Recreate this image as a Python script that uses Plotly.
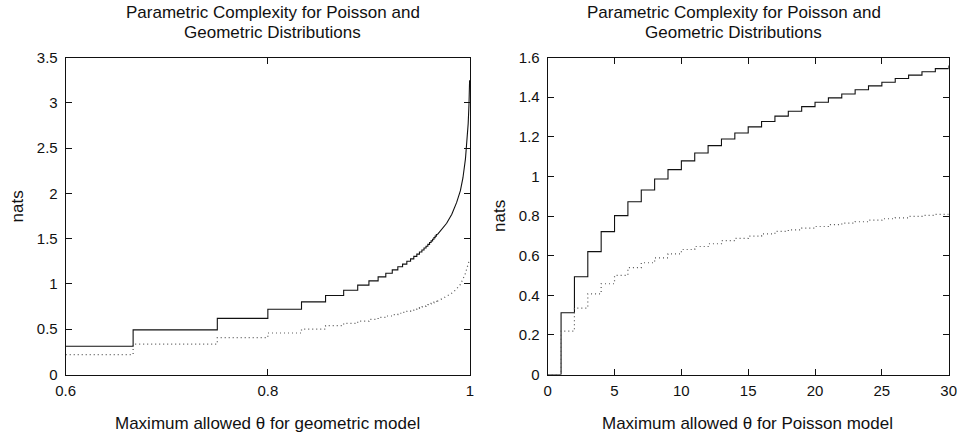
import plotly.graph_objects as go

# ---------------- data ----------------
# Step levels (nats) for integer k = 1..29 (solid = upper curve, dotted = lower curve)
solid_levels = [0.312, 0.493, 0.620, 0.721, 0.802, 0.872, 0.931, 0.987, 1.034, 1.078,
                1.118, 1.155, 1.189, 1.219, 1.250, 1.277, 1.304, 1.329, 1.352, 1.374,
                1.396, 1.416, 1.437, 1.457, 1.475, 1.494, 1.511, 1.528, 1.544]
dotted_levels = [0.219, 0.335, 0.407, 0.458, 0.500, 0.539, 0.564, 0.589, 0.609, 0.631,
                 0.646, 0.660, 0.676, 0.687, 0.698, 0.710, 0.722, 0.730, 0.739, 0.747,
                 0.756, 0.764, 0.771, 0.779, 0.786, 0.791, 0.798, 0.803, 0.808]

# Right panel: maximum allowed theta for Poisson model (step positions)
poisson_x = [0, 1, 2, 3, 4, 5, 6, 7, 8, 9, 10, 11, 12, 13, 14, 15, 16, 17, 18, 19, 20,
             21, 22, 23, 24, 25, 26, 27, 28, 29, 30]
poisson_solid_end = 1.560
poisson_dotted_end = 0.812

# Left panel: maximum allowed theta for geometric model (step positions, last = end)
geom_x = [0.6, 0.6667, 0.75, 0.8, 0.8333, 0.8571, 0.875, 0.8889, 0.9, 0.9091, 0.9167,
          0.9231, 0.9286, 0.9333, 0.9375, 0.9412, 0.9444, 0.9474, 0.95, 0.9524, 0.9545,
          0.9565, 0.9583, 0.96, 0.9615, 0.963, 0.9643, 0.9655, 0.9667, 0.9677]
# smooth tail near theta -> 1
geom_tail_x = [0.9677, 0.9720, 0.9769, 0.9820, 0.9868, 0.9905, 0.9930, 0.9955, 0.9970,
               0.9982, 0.9990, 0.9996]
geom_tail_solid = [1.544, 1.600, 1.670, 1.770, 1.900, 2.030, 2.170, 2.380, 2.560,
                   2.770, 2.980, 3.250]
geom_dtail_x = [0.9677, 0.9720, 0.9770, 0.9834, 0.9900, 0.9950, 0.9983, 0.9992]
geom_dtail_dotted = [0.808, 0.832, 0.866, 0.908, 0.985, 1.100, 1.235, 1.257]

title_lines = ["Parametric Complexity for Poisson and", "Geometric Distributions"]
left_xlabel = "Maximum allowed θ for geometric model"
right_xlabel = "Maximum allowed θ for Poisson model"
ylabel = "nats"

# ---------------- figure ----------------
W, H = 957, 433
SOLID = dict(color="#111111", width=1.1)
DOT = dict(color="#555555", width=1.2, dash="1px,3px")

fig = go.Figure()

# Left panel
fig.add_trace(go.Scatter(x=geom_x, y=solid_levels + [solid_levels[-1]],
                         mode="lines", line=SOLID, line_shape="hv", xaxis="x", yaxis="y",
                         showlegend=False, hoverinfo="skip"))
fig.add_trace(go.Scatter(x=geom_tail_x, y=geom_tail_solid, mode="lines", line=SOLID,
                         xaxis="x", yaxis="y", showlegend=False, hoverinfo="skip"))
fig.add_trace(go.Scatter(x=geom_x, y=dotted_levels + [dotted_levels[-1]],
                         mode="lines", line=DOT, line_shape="hv", xaxis="x", yaxis="y",
                         showlegend=False, hoverinfo="skip"))
fig.add_trace(go.Scatter(x=geom_dtail_x, y=geom_dtail_dotted, mode="lines", line=DOT,
                         xaxis="x", yaxis="y", showlegend=False, hoverinfo="skip"))

# Right panel
fig.add_trace(go.Scatter(x=poisson_x, y=[0] + solid_levels + [poisson_solid_end],
                         mode="lines", line=SOLID, line_shape="hv", xaxis="x2", yaxis="y2",
                         showlegend=False, hoverinfo="skip"))
fig.add_trace(go.Scatter(x=poisson_x, y=[0] + dotted_levels + [poisson_dotted_end],
                         mode="lines", line=DOT, line_shape="hv", xaxis="x2", yaxis="y2",
                         showlegend=False, hoverinfo="skip"))

FONT = "Liberation Sans, Arial, Helvetica, sans-serif"
TICKFONT = dict(family=FONT, size=15, color="#111111")

# pixel geometry
L1, R1 = 65.7, 470.0
L2, R2 = 547.7, 948.7
TOP, BOT = 57.5, 374.5

axis_common = dict(showline=True, linecolor="#111111", linewidth=1, mirror="ticks",
                   ticks="inside", ticklen=6, tickcolor="#111111", tickwidth=1,
                   showgrid=False, zeroline=False, tickfont=TICKFONT, fixedrange=True,
                   automargin=False, ticklabeloverflow="allow")

fig.update_layout(
    width=W, height=H,
    margin=dict(l=0, r=0, t=0, b=0),
    paper_bgcolor="white", plot_bgcolor="white",
    xaxis=dict(domain=[L1 / W, R1 / W], range=[0.6, 1.0], tickvals=[0.6, 0.8, 1.0],
               ticktext=["0.6", "0.8", "1"], anchor="y", ticklabelstandoff=2, **axis_common),
    yaxis=dict(domain=[(H - BOT) / H, (H - TOP) / H], range=[0, 3.5], dtick=0.5,
               anchor="x", ticklabelstandoff=4, **axis_common),
    xaxis2=dict(domain=[L2 / W, R2 / W], range=[0, 30], dtick=5, anchor="y2",
                ticklabelstandoff=2, **axis_common),
    yaxis2=dict(domain=[(H - BOT) / H, (H - TOP) / H], range=[0, 1.6], dtick=0.2,
                anchor="x2", ticklabelstandoff=4, **axis_common),
)

ann = []
def px_ann(text, xpx, ypx, size=17, angle=0):
    ann.append(dict(text=text, x=xpx / W, y=1 - ypx / H, xref="paper", yref="paper",
                    showarrow=False, xanchor="center", yanchor="middle", textangle=angle,
                    font=dict(family=FONT, size=size, color="#111111")))

for cx in (272.5, 733.5):
    px_ann(title_lines[0], cx, 12.5)
    px_ann(title_lines[1], cx, 32.5)

px_ann(left_xlabel, 267.5, 423)
px_ann(right_xlabel, 747.5, 423)
px_ann(ylabel, 16.5, 207, angle=-90)
px_ann(ylabel, 499, 216, angle=-90)

fig.update_layout(annotations=ann)
fig.write_html("out.html")
